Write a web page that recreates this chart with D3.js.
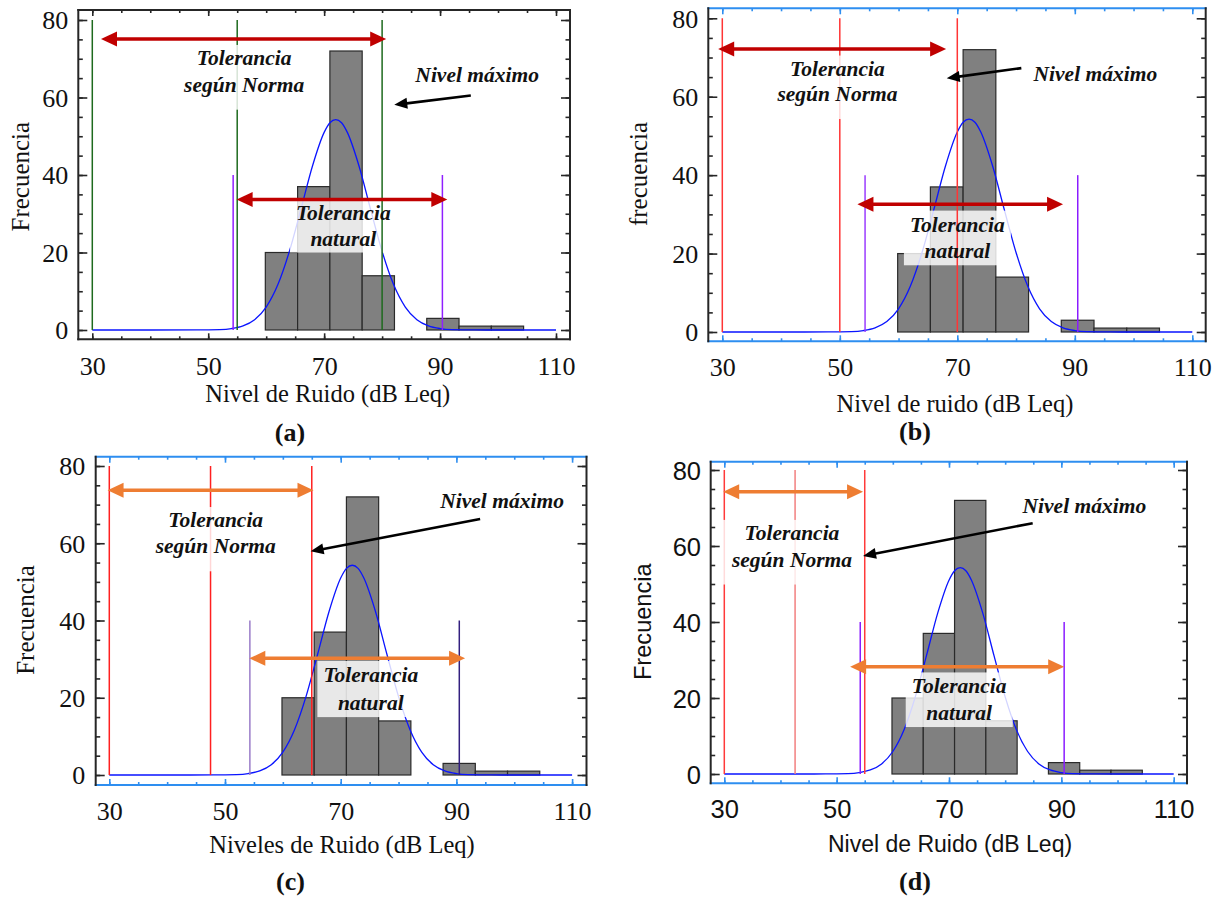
<!DOCTYPE html>
<html>
<head>
<meta charset="utf-8">
<script src="https://cdn.jsdelivr.net/npm/d3@7"></script>
<style>
  body { margin: 0; background: #fff; }
  svg { display: block; }
</style>
</head>
<body>
<svg id="fig" width="1220" height="898"></svg>
<script>
// ---- Noise-level histogram shared by the four panels (dB Leq) ----
const binEdges  = [59.85, 65.42, 70.99, 76.56, 82.13, 87.70, 93.27, 98.84, 104.41];
const binCounts = [20, 37, 72, 14, 0, 3, 1, 1];

// Fitted normal curve, sampled along the noise axis
const curveX = [30, 40, 48, 52, 54, 56, 58, 60, 62, 64, 66, 68, 70, 71, 72, 73, 74, 76, 78, 80, 82, 84, 86, 88, 90, 92, 96, 100, 110];
const curveY = [0, 0, 0.01, 0.11, 0.37, 1.06, 2.66, 5.92, 11.65, 20.28, 31.2, 42.4, 51.0, 53.5, 54.3, 53.5, 51.0, 42.4, 31.2, 20.28, 11.65, 5.92, 2.66, 1.06, 0.37, 0.11, 0.01, 0, 0];

// Axis ticks
const xTicks = [30, 50, 70, 90, 110];
const yTicks = [0, 20, 40, 60, 80];
const xMinorTicks = d3.range(30, 111, 5);
const yMinorTicks = d3.range(0, 81, 5);

// Panel texts
const panelTags = ["(a)", "(b)", "(c)", "(d)"];
const xTitles = ["Nivel de Ruido (dB Leq)", "Nivel de ruido (dB Leq)", "Niveles de Ruido (dB Leq)", "Nivel de Ruido (dB Leq)"];
const yTitles = ["Frecuencia", "frecuencia", "Frecuencia", "Frecuencia"];
const normLabel = ["Tolerancia", "según Norma"];
const naturalLabel = ["Tolerancia", "natural"];
const maxLabel = "Nivel máximo";

// Reference lines (dB) for each panel: standard limits and natural tolerance limits
const normLines = [[30, 55, 80], [30, 50, 70], [30, 47.5, 65], [30, 42.6, 55]];
const naturalLines = [[54.3, 90.4], [54.3, 90.5], [54.3, 90.5], [54.2, 90.5]];
const naturalLineTop = 40;

// Double arrows: [from dB, to dB, frequency level]
const normArrows = [[31.5, 80.7, 75.1], [29.3, 68.1, 72.2], [29.7, 65.3, 73.7], [29.8, 54.7, 74.3]];
const naturalArrows = [[54.9, 91.25, 33.7], [53.0, 88.0, 32.6], [54.2, 91.5, 30.2], [52.4, 90.5, 28.2]];
// "Nivel máximo" pointer: [tail dB, tail freq, head dB, head freq]
const maxArrows = [[95.3, 60.5, 82.1, 58.1], [80.9, 67.3, 68.2, 64.7], [94.1, 66.3, 64.8, 57.9], [84.9, 66.0, 54.7, 57.4]];

// ---- Layout and style of each panel ----
const SERIF = "'Liberation Serif', 'Times New Roman', serif";
const SANS = "'Liberation Sans', Arial, sans-serif";
const BLUE = "#2e8ef0";
const panels = [
  { frame: {l: 78.3, r: 570, t: 10, b: 339.3}, xr: [92.3, 556], yr: [330, 20], font: SERIF, tickSize: 26,
    tb: "#262626", normColors: ["#1e6a1e", "#1e6a1e", "#1e6a1e"], natColors: ["#8f1fff", "#8f1fff"], arrowColor: "#c00000",
    xTickBase: 375.5, yTickGap: 10, xTitle: [327.7, 402], yTitle: [29, 176.7], tag: [290, 441],
    normText: [56.2, 68.4, 61.5], maxText: [96.4, 64.1], natText: [73.3, 28.4, 21.8] },
  { frame: {l: 708.3, r: 1205.7, t: 8.3, b: 341.3}, xr: [722.3, 1192.3], yr: [332, 18.3], font: SERIF, tickSize: 26,
    tb: BLUE, normColors: ["#ff3535", "#ff3535", "#ff3535"], natColors: ["#9a3cff", "#8a1cff"], arrowColor: "#c00000",
    xTickBase: 376.5, yTickGap: 10, xTitle: [955, 411.5], yTitle: [646.5, 174], tag: [915, 440],
    normText: [49.6, 65.4, 58.9], maxText: [93.5, 63.9], natText: [70.0, 25.6, 18.8] },
  { frame: {l: 95.7, r: 586.5, t: 456.7, b: 785}, xr: [109.3, 572.1], yr: [775, 466], font: SERIF, tickSize: 26,
    tb: BLUE, normColors: ["#ff2020", "#ff2020", "#ff2020"], natColors: ["#9a7cc9", "#33207f"], arrowColor: "#ee7d32",
    xTickBase: 820, yTickGap: 10.5, xTitle: [342, 853], yTitle: [33.5, 620], tag: [290.4, 890],
    normText: [48.4, 64.2, 57.4], maxText: [97.9, 69.1], natText: [75.2, 24.1, 16.8] },
  { frame: {l: 710.7, r: 1187, t: 461.7, b: 783.3}, xr: [724.3, 1173.7], yr: [774, 470], font: SANS, tickSize: 25.5,
    tb: BLUE, normColors: ["#ff3a3a", "#f27f7f", "#ff3a3a"], natColors: ["#8a1cff", "#8a1cff"], arrowColor: "#ee7d32",
    xTickBase: 818.3, yTickGap: 9.7, xTitle: [950, 851.7], yTitle: [651, 621.7], tag: [915, 890],
    normText: [42.05, 61.6, 54.6], maxText: [94.1, 68.6], natText: [71.8, 21.2, 14.2] }
];

const svg = d3.select("#fig");

// Arrow with filled triangular heads
function drawArrow(g, x1, y1, x2, y2, color, width, headLen, headW, both) {
  const dx = x2 - x1, dy = y2 - y1, L = Math.hypot(dx, dy);
  const ux = dx / L, uy = dy / L, px = -uy, py = ux;
  const sx = both ? x1 + ux * headLen * 0.8 : x1;
  const sy = both ? y1 + uy * headLen * 0.8 : y1;
  const ex = x2 - ux * headLen * 0.8, ey = y2 - uy * headLen * 0.8;
  g.append("line").attr("x1", sx).attr("y1", sy).attr("x2", ex).attr("y2", ey)
    .attr("stroke", color).attr("stroke-width", width);
  const head = (tx, ty, dirx, diry) => {
    const bx = tx - dirx * headLen, by = ty - diry * headLen;
    const pts = [[tx, ty], [bx + px * headW / 2, by + py * headW / 2], [bx - px * headW / 2, by - py * headW / 2]];
    g.append("polygon").attr("points", pts.map(p => p.join(",")).join(" ")).attr("fill", color);
  };
  head(x2, y2, ux, uy);
  if (both) head(x1, y1, -ux, -uy);
}

// Two-line label, centred, with a translucent white backing box
function labelWithBox(textLayer, boxLayer, cx, yb1, yb2, lines, pad) {
  const t = textLayer.append("text")
    .attr("font-family", SERIF).attr("font-weight", "bold").attr("font-style", "italic")
    .attr("font-size", 21.5).attr("text-anchor", "middle").attr("fill", "#111");
  t.append("tspan").attr("x", cx).attr("y", yb1).text(lines[0]);
  t.append("tspan").attr("x", cx).attr("y", yb2).text(lines[1]);
  const bb = t.node().getBBox();
  boxLayer.append("rect")
    .attr("x", bb.x - pad[0]).attr("y", bb.y - pad[1])
    .attr("width", bb.width + 2 * pad[0]).attr("height", bb.height + pad[1] + pad[2])
    .attr("fill", "#fff").attr("fill-opacity", 0.82);
}

panels.forEach((P, i) => {
  const x = d3.scaleLinear().domain([30, 110]).range(P.xr);
  const y = d3.scaleLinear().domain([0, 80]).range(P.yr);
  const F = P.frame;

  const root = svg.append("g").attr("class", "panel-" + i);
  const gBars = root.append("g"), gCurve = root.append("g"), gNatBox = root.append("g");
  const gLines = root.append("g"), gNormBox = root.append("g"), gAxes = root.append("g");
  const gText = root.append("g"), gArrows = root.append("g");

  // Histogram bars
  const bins = binCounts.map((n, k) => ({x0: binEdges[k], x1: binEdges[k + 1], n}));
  gBars.selectAll("rect").data(bins).join("rect")
    .attr("x", d => x(d.x0)).attr("width", d => x(d.x1) - x(d.x0))
    .attr("y", d => y(d.n)).attr("height", d => y(0) - y(d.n))
    .attr("fill", "#808080")
    .attr("stroke", d => d.n ? "#2a2a2a" : "#a0a0a0").attr("stroke-width", 1.2);

  // Fitted curve
  const line = d3.line().x(d => x(d[0])).y(d => y(d[1])).curve(d3.curveMonotoneX);
  gCurve.append("path").datum(d3.zip(curveX, curveY)).attr("d", line)
    .attr("fill", "none").attr("stroke", "#0a14ff").attr("stroke-width", 1.3);

  // Standard-limit lines (full height) and natural-tolerance lines
  gLines.selectAll("line.norm").data(normLines[i]).join("line").attr("class", "norm")
    .attr("x1", d => x(d)).attr("x2", d => x(d)).attr("y1", y(80)).attr("y2", y(0))
    .attr("stroke", (d, k) => P.normColors[k]).attr("stroke-width", 1.5);
  gLines.selectAll("line.nat").data(naturalLines[i]).join("line").attr("class", "nat")
    .attr("x1", d => x(d)).attr("x2", d => x(d)).attr("y1", y(naturalLineTop)).attr("y2", y(0))
    .attr("stroke", (d, k) => P.natColors[k]).attr("stroke-width", 1.5);

  // Frame
  const frameLine = (x1, y1, x2, y2, c) => gAxes.append("line")
    .attr("x1", x1).attr("y1", y1).attr("x2", x2).attr("y2", y2)
    .attr("stroke", c).attr("stroke-width", 2).attr("stroke-linecap", "square");
  frameLine(F.l, F.t, F.r, F.t, P.tb);
  frameLine(F.l, F.b, F.r, F.b, P.tb);
  frameLine(F.l, F.t, F.l, F.b, "#262626");
  frameLine(F.r, F.t, F.r, F.b, "#262626");

  // Inward ticks on all four sides
  const tickStyle = (g, color) => {
    g.select(".domain").remove();
    g.attr("color", color).selectAll(".tick line").attr("stroke-width", 1.6);
  };
  gAxes.append("g").attr("transform", `translate(${F.l},0)`)
    .call(d3.axisLeft(y).tickValues(yMinorTicks).tickSize(-4.5).tickFormat(""))
    .call(g => tickStyle(g, "#262626"));
  gAxes.append("g").attr("transform", `translate(${F.r},0)`)
    .call(d3.axisRight(y).tickValues(yMinorTicks).tickSize(-4.5).tickFormat(""))
    .call(g => tickStyle(g, "#262626"));
  gAxes.append("g").attr("transform", `translate(${F.r},0)`)
    .call(d3.axisRight(y).tickValues(yTicks).tickSize(-9).tickFormat(""))
    .call(g => tickStyle(g, "#262626"));
  const yAxis = gAxes.append("g").attr("transform", `translate(${F.l},0)`)
    .call(d3.axisLeft(y).tickValues(yTicks).tickSize(-9).tickPadding(P.yTickGap).tickFormat(d3.format("d")))
    .call(g => tickStyle(g, "#262626"));
  yAxis.selectAll("text").attr("font-family", P.font).attr("font-size", P.tickSize)
    .attr("fill", "#111").attr("dy", P.font === SANS ? "0.36em" : "0.34em");

  gAxes.append("g").attr("transform", `translate(0,${F.t})`)
    .call(d3.axisTop(x).tickValues(xMinorTicks).tickSize(-3).tickFormat(""))
    .call(g => tickStyle(g, P.tb));
  gAxes.append("g").attr("transform", `translate(0,${F.t})`)
    .call(d3.axisTop(x).tickValues(xTicks).tickSize(-6).tickFormat(""))
    .call(g => tickStyle(g, P.tb));
  gAxes.append("g").attr("transform", `translate(0,${F.b})`)
    .call(d3.axisBottom(x).tickValues(xMinorTicks).tickSize(-3).tickFormat(""))
    .call(g => tickStyle(g, P.tb));
  const xAxis = gAxes.append("g").attr("transform", `translate(0,${F.b})`)
    .call(d3.axisBottom(x).tickValues(xTicks).tickSize(-6).tickFormat(d3.format("d")))
    .call(g => tickStyle(g, P.tb));
  xAxis.selectAll("text").attr("font-family", P.font).attr("font-size", P.tickSize)
    .attr("fill", "#111").attr("y", P.xTickBase - F.b).attr("dy", null);

  // Axis titles and panel tag
  gText.append("text").attr("x", P.xTitle[0]).attr("y", P.xTitle[1])
    .attr("text-anchor", "middle").attr("font-family", P.font)
    .attr("font-size", P.font === SANS ? 23 : 24.5).attr("fill", "#111").text(xTitles[i]);
  gText.append("text").attr("transform", `translate(${P.yTitle[0]},${P.yTitle[1]}) rotate(-90)`)
    .attr("text-anchor", "middle").attr("font-family", P.font)
    .attr("font-size", P.font === SANS ? 23.6 : 25).attr("fill", "#111").text(yTitles[i]);
  gText.append("text").attr("x", P.tag[0]).attr("y", P.tag[1])
    .attr("text-anchor", "middle").attr("font-family", SERIF).attr("font-weight", "bold")
    .attr("font-size", 26).attr("fill", "#111").text(panelTags[i]);

  // Annotations
  labelWithBox(gText, gNormBox, x(P.normText[0]), y(P.normText[1]), y(P.normText[2]), normLabel, [10, 1, 13]);
  labelWithBox(gText, gNatBox, x(P.natText[0]), y(P.natText[1]), y(P.natText[2]), naturalLabel, [6, 2, 2]);
  gText.append("text").attr("x", x(P.maxText[0])).attr("y", y(P.maxText[1]))
    .attr("text-anchor", "middle").attr("font-family", SERIF).attr("font-weight", "bold")
    .attr("font-style", "italic").attr("font-size", 21.5).attr("fill", "#111").text(maxLabel);

  const na = normArrows[i], ta = naturalArrows[i], ma = maxArrows[i];
  drawArrow(gArrows, x(na[0]), y(na[2]), x(na[1]), y(na[2]), P.arrowColor, 3.5, 16, 15, true);
  drawArrow(gArrows, x(ta[0]), y(ta[2]), x(ta[1]), y(ta[2]), P.arrowColor, 3.5, 16, 15, true);
  drawArrow(gArrows, x(ma[0]), y(ma[1]), x(ma[2]), y(ma[3]), "#000", 2.6, 13, 11, false);
});
</script>
</body>
</html>
